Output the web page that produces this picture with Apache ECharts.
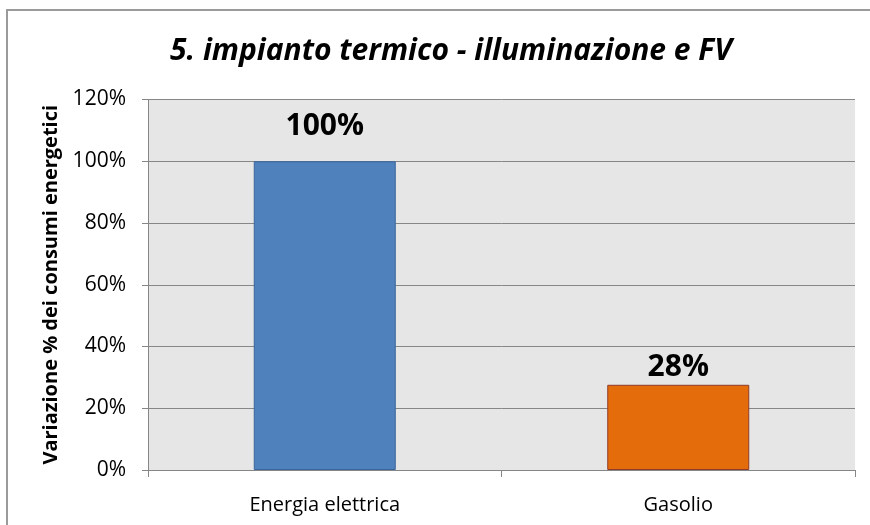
<!DOCTYPE html>
<html>
<head>
<meta charset="utf-8">
<script src="https://cdn.jsdelivr.net/npm/echarts@6/dist/echarts.min.js"></script>
<style>
    html, body { margin: 0; padding: 0; background: #fff; }
    #chart { width: 870px; height: 525px; }
</style>
</head>
<body>
<div id="chart"></div>
<script>
const categories = ['Energia elettrica', 'Gasolio']
const values = [1.0, 0.276]
const barColors = ['#4f81bd', '#e46c0a']
const barBorders = ['#3a649a', '#8e3b2b']
const labelGaps = [20, 2]

const chart = echarts.init(document.getElementById('chart'))

const seriesData = values.map((v, i) => ({
    value: v,
    itemStyle: { color: barColors[i], borderColor: barBorders[i], borderWidth: 1 },
    label: { distance: labelGaps[i] }
}))

const options = {
    animation: false,
    textStyle: { fontFamily: 'Open Sans' },
    title: {
        text: '5. impianto termico - illuminazione e FV',
        left: 446,
        textAlign: 'center',
        top: 31,
        textStyle: {
            fontFamily: 'Open Sans',
            fontSize: 30,
            fontWeight: 'bold',
            fontStyle: 'italic',
            color: '#000'
        }
    },
    graphic: [{
        type: 'rect',
        z: -10,
        shape: { x: 7, y: 10, width: 900, height: 600 },
        style: { fill: 'none', stroke: '#9a9a9a', lineWidth: 2 }
    }],
    grid: {
        left: 148,
        right: 15,
        top: 99.5,
        bottom: 55,
        show: true,
        backgroundColor: '#e6e6e6',
        borderWidth: 0
    },
    xAxis: {
        type: 'category',
        data: categories,
        axisLine: { lineStyle: { color: '#868686', width: 1 } },
        axisTick: { show: true, length: 7, alignWithLabel: false, lineStyle: { color: '#868686' } },
        axisLabel: { fontSize: 20, color: '#000', margin: 25 }
    },
    yAxis: {
        type: 'value',
        min: 0,
        max: 1.2,
        interval: 0.2,
        name: 'Variazione % dei consumi energetici',
        nameLocation: 'middle',
        nameGap: 84,
        nameTextStyle: { fontSize: 20, fontWeight: 'bold', color: '#000' },
        axisLine: { show: true, lineStyle: { color: '#868686', width: 1 } },
        axisTick: { show: true, length: 6, lineStyle: { color: '#868686' } },
        axisLabel: {
            fontSize: 21,
            color: '#000',
            margin: 22,
            formatter: v => Math.round(v * 100) + '%'
        },
        splitLine: { show: true, lineStyle: { color: '#868686', width: 1 } }
    },
    series: [{
        type: 'bar',
        data: seriesData,
        barWidth: 142,
        label: {
            show: true,
            position: 'top',
            fontSize: 30,
            fontWeight: 'bold',
            color: '#000',
            formatter: p => Math.round(p.value * 100) + '%'
        }
    }]
}

chart.setOption(options)
</script>
</body>
</html>
